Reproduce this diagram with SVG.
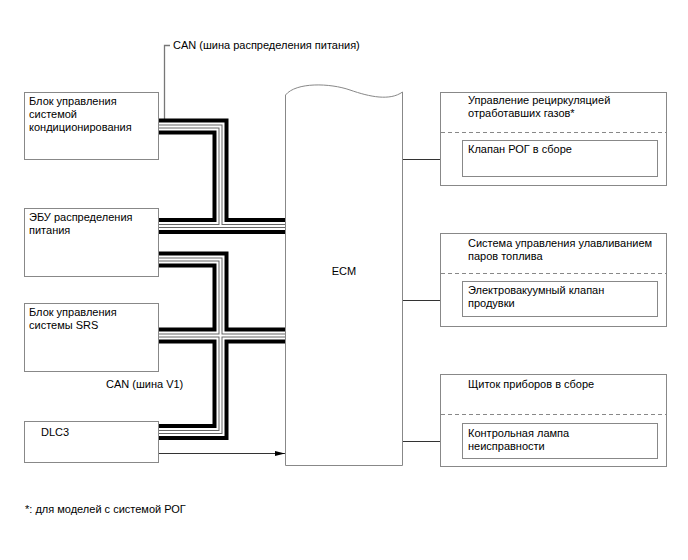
<svg xmlns="http://www.w3.org/2000/svg" width="688" height="560" viewBox="0 0 688 560">
<defs>
<marker id="arr" markerUnits="userSpaceOnUse" markerWidth="11" markerHeight="6" refX="10" refY="3" orient="auto">
<path d="M0,0.5 L10,3 L0,5.5 Z" fill="#000"/>
</marker>
<style>
.box{fill:#fff;stroke:#888;stroke-width:1}
.dash{fill:none;stroke:#888;stroke-width:1;stroke-dasharray:4 3}
.t{font-family:"Liberation Sans",Arial,sans-serif;font-size:11px;fill:#000}
.arrow{fill:none;stroke:#333;stroke-width:1;marker-end:url(#arr)}
.lead{fill:none;stroke:#777;stroke-width:1.3}
.b1{fill:none;stroke:#000;stroke-width:16;stroke-linejoin:miter}
.b2{fill:none;stroke:#fff;stroke-width:8;stroke-linejoin:miter}
.b3{fill:none;stroke:#666;stroke-width:4;stroke-linejoin:miter}
.b4{fill:none;stroke:#fff;stroke-width:2;stroke-linejoin:miter}
</style>
</defs>
<rect width="688" height="560" fill="#fff"/>

<g id="connectors">
<path class="lead" d="M170,45.5 H164.5 V119"/>
<g id="bus">
<path class="b1" d="M159,126.5 H220.5 V226 M159,226 H286 M159,259.5 H220.5 V432 H159 M159,335.5 H286"/>
<path class="b2" d="M159,126.5 H220.5 V226 M159,226 H286 M159,259.5 H220.5 V432 H159 M159,335.5 H286"/>
<path class="b3" d="M159,126.5 H220.5 V226 M159,226 H286 M159,259.5 H220.5 V432 H159 M159,335.5 H286"/>
<path class="b4" d="M159,126.5 H220.5 V226 M159,226 H286 M159,259.5 H220.5 V432 H159 M159,335.5 H286"/>
</g>
<path class="arrow" d="M159,453.5 H285"/>
<path class="arrow" d="M403,159.5 H462"/>
<path class="arrow" d="M403,300.5 H462"/>
<path class="arrow" d="M403,441.5 H462"/>
</g>
<text class="t" x="173" y="49">CAN (шина распределения питания)</text>
<text class="t" x="106" y="388">CAN (шина V1)</text>

<g id="ac">
<rect class="box" x="24.5" y="92.5" width="134" height="67"/>
<text class="t" x="29" y="105">Блок управления</text>
<text class="t" x="29" y="118">системой</text>
<text class="t" x="29" y="131">кондиционирования</text>
</g>
<g id="pd">
<rect class="box" x="24.5" y="208.5" width="134" height="68"/>
<text class="t" x="29" y="221">ЭБУ распределения</text>
<text class="t" x="29" y="234">питания</text>
</g>
<g id="srs">
<rect class="box" x="24.5" y="303.5" width="134" height="68"/>
<text class="t" x="29" y="316">Блок управления</text>
<text class="t" x="29" y="329">системы SRS</text>
</g>
<g id="dlc3">
<rect class="box" x="24.5" y="421.5" width="134" height="41"/>
<text class="t" x="41" y="436">DLC3</text>
</g>

<g id="ecm">
<path class="box" d="M285.5,465.5 V95 C296,82 330,83 350,90 C370,97 390,101 402.5,92 V465.5 Z"/>
<text class="t" x="344" y="275" text-anchor="middle">ECM</text>
</g>

<g id="egr">
<rect class="box" x="440.5" y="92.5" width="226" height="93"/>
<line class="dash" x1="441" y1="132.5" x2="666" y2="132.5"/>
<text class="t" x="468" y="104">Управление рециркуляцией</text>
<text class="t" x="468" y="117">отработавших газов*</text>
<rect class="box" x="462.5" y="140.5" width="195" height="36"/>
<text class="t" x="468" y="153">Клапан РОГ в сборе</text>
</g>
<g id="evap">
<rect class="box" x="440.5" y="233.5" width="226" height="93"/>
<line class="dash" x1="441" y1="273.5" x2="666" y2="273.5"/>
<text class="t" x="468" y="247">Система управления улавливанием</text>
<text class="t" x="468" y="260">паров топлива</text>
<rect class="box" x="462.5" y="281.5" width="195" height="35"/>
<text class="t" x="468" y="294">Электровакуумный клапан</text>
<text class="t" x="468" y="307">продувки</text>
</g>
<g id="combo">
<rect class="box" x="440.5" y="374.5" width="226" height="92"/>
<line class="dash" x1="441" y1="414.5" x2="666" y2="414.5"/>
<text class="t" x="468" y="388">Щиток приборов в сборе</text>
<rect class="box" x="462.5" y="423.5" width="195" height="35"/>
<text class="t" x="468" y="437">Контрольная лампа</text>
<text class="t" x="468" y="450">неисправности</text>
</g>

<text class="t" x="25" y="513">*: для моделей с системой РОГ</text>
</svg>
